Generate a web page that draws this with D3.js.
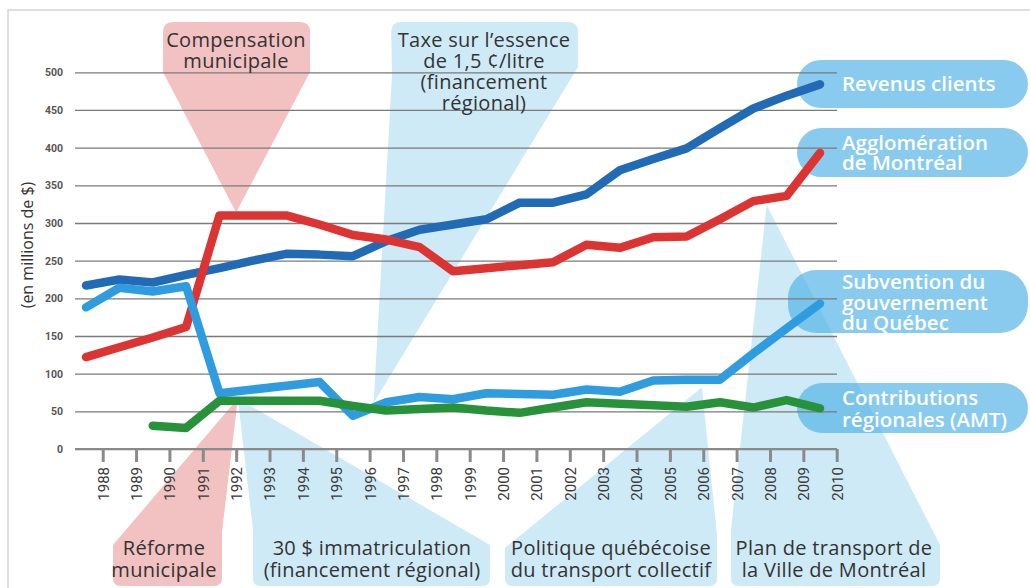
<!DOCTYPE html>
<html>
<head>
<meta charset="utf-8">
<script src="https://cdn.jsdelivr.net/npm/d3@7"></script>
<style>
  body { margin: 0; background: #fff; }
  svg { display: block; }
</style>
</head>
<body>
<script>
// Sources de financement du transport collectif (en millions de $)
// values, one per year
var years = [1988, 1989, 1990, 1991, 1992, 1993, 1994, 1995, 1996, 1997, 1998, 1999,
             2000, 2001, 2002, 2003, 2004, 2005, 2006, 2007, 2008, 2009, 2010];

var revenusClients = [217, 225, 221, 231, 240, 250, 259, 258, 256, 276, 291, 298,
                      305, 327, 327, 338, 370, 385, 399, 426, 452, 469, 484];
var agglomeration  = [122, 135, 148, 162, 310, 310, 310, 298, 284, 278, 268, 236,
                      240, 244, 248, 271, 267, 281, 282, 305, 329, 336, 393];
var subvention     = [188, 214, 209, 216, 74, 79, 84, 89, 44, 62, 69, 66,
                      74, 73, 72, 79, 76, 91, 92, 92, 127, 160, 193];
var contributions  = [null, null, 31, 28, 64, 64, 64, 64, 57, 51, 53, 55,
                      51, 48, 55, 62, 60, 58, 56, 62, 55, 65, 54];

var yTicks = [0, 50, 100, 150, 200, 250, 300, 350, 400, 450, 500];

var seriesNames = ['Revenus clients', 'Agglomération de Montréal',
                   'Subvention du gouvernement du Québec', 'Contributions régionales (AMT)'];
var legendLines = [['Revenus clients'], ['Agglomération', 'de Montréal'],
                   ['Subvention du', 'gouvernement', 'du Québec'],
                   ['Contributions', 'régionales (AMT)']];

var calloutTexts = [['Compensation', 'municipale'],
                    ['Taxe sur l\u2019essence', 'de 1,5 \u00a2/litre', '(financement', 'régional)'],
                    ['Réforme', 'municipale'],
                    ['30 $ immatriculation', '(financement régional)'],
                    ['Politique québécoise', 'du transport collectif'],
                    ['Plan de transport de', 'la Ville de Montréal']];
// where each callout points, in (year, millions) terms
var calloutYears  = [1992, 1996.12, 1992.05, 1992.05, 2005.96, 2007.9];
var calloutValues = [314, 61, 67, 67, 82, 324];

var seriesData = [revenusClients, agglomeration, subvention, contributions];
var colors = ['#216bb6', '#dc3432', '#309ce0', '#28923a'];

var W = 1030, H = 588;

var svg = d3.select('body').append('svg')
    .attr('width', W)
    .attr('height', H);

var x = d3.scaleLinear().domain([1988, 2010]).range([102.7, 836.7]);
var y = d3.scaleLinear().domain([0, 500]).range([449, 72.3]);
var half = (x(1989) - x(1988)) / 2;
var gridLeft = 75, gridRight = 837;

// frame
svg.append('path')
    .attr('d', 'M8,' + H + 'V10H' + W)
    .attr('fill', 'none')
    .attr('stroke', '#d4d4d4')
    .attr('stroke-width', 1.5);

// rounded polygon helper: points are [x, y, radius]
function towards(p, q, r) {
  var dx = q[0] - p[0], dy = q[1] - p[1], l = Math.sqrt(dx * dx + dy * dy);
  return [p[0] + dx / l * r, p[1] + dy / l * r];
}
function roundedPath(pts) {
  var n = pts.length, d = '';
  pts.forEach(function (p, i) {
    var r = p[2] || 0;
    var cmd = i ? 'L' : 'M';
    if (!r) { d += cmd + p[0] + ',' + p[1]; return; }
    var a = towards(p, pts[(i + n - 1) % n], r),
        b = towards(p, pts[(i + 1) % n], r);
    d += cmd + a[0] + ',' + a[1] + 'Q' + p[0] + ',' + p[1] + ' ' + b[0] + ',' + b[1];
  });
  return d + 'Z';
}

// callout shapes (layout only), 'A' = the point the callout aims at
var pink = '#f2c1c1', pale = '#cfeaf7';
var callouts = [
  {fill: pink, tx: 236, ty: [47, 68],
   pts: [[163, 22, 10], [310, 22, 10], [310, 72], 'A', [163, 72]]},
  {fill: pale, tx: 484, ty: [47, 68, 89, 110],
   pts: [[391, 22, 10], [578, 22, 10], [578, 67], 'A', [392, 75]]},
  {fill: pink, tx: 164, ty: [555, 577],
   pts: ['A', [222, 532], [222, 586, 8], [113, 586, 8], [113, 545]]},
  {fill: pale, tx: 372, ty: [555, 577],
   pts: ['A', [490, 545], [490, 586, 8], [253, 586, 8], [253, 530]]},
  {fill: pale, tx: 611, ty: [555, 577],
   pts: ['A', [717, 535], [717, 586, 8], [505, 586, 8], [505, 548]]},
  {fill: pale, tx: 834, ty: [555, 577],
   pts: ['A', [940, 545], [940, 586, 8], [731, 586, 8], [731, 530]]}
];

svg.append('g').selectAll('path')
  .data(callouts)
  .enter()
  .append('path')
  .attr('fill', function (d) { return d.fill; })
  .attr('d', function (d, i) {
    var apex = [x(calloutYears[i]), y(calloutValues[i]), 0];
    return roundedPath(d.pts.map(function (p) { return p === 'A' ? apex : p; }));
  });

// legend pills on the right
var pills = [
  {x: 797, y: 60, w: 231, h: 48, ty: [91]},
  {x: 797, y: 128, w: 231, h: 49, ty: [150, 170]},
  {x: 788, y: 270, w: 240, h: 63, ty: [289, 310, 330]},
  {x: 797, y: 383, w: 231, h: 50, ty: [405, 427]}
];

svg.append('g').selectAll('rect')
  .data(pills)
  .enter()
  .append('rect')
  .attr('x', function (d) { return d.x; })
  .attr('y', function (d) { return d.y; })
  .attr('width', function (d) { return d.w; })
  .attr('height', function (d) { return d.h; })
  .attr('rx', function (d) { return Math.min(d.h / 2, 28); })
  .attr('fill', '#49afe5')
  .attr('fill-opacity', 0.65);

// y axis + gridlines
var yAxis = d3.axisLeft(y)
    .tickValues(yTicks)
    .tickSize(-(gridRight - gridLeft))
    .tickPadding(12);

var gy = svg.append('g')
    .attr('transform', 'translate(' + gridLeft + ',0)')
    .call(yAxis);
gy.select('.domain').remove();
gy.selectAll('.tick line')
    .attr('stroke', '#7a7a7a')
    .attr('stroke-width', 1.3);
gy.selectAll('.tick text')
    .attr('font-family', 'Roboto, sans-serif')
    .attr('font-weight', 'bold')
    .attr('font-size', '10.5px')
    .attr('fill', '#555');

// x axis
var xAxis = d3.axisBottom(x)
    .tickValues(years)
    .tickFormat(d3.format('d'))
    .tickSize(13);

var gx = svg.append('g')
    .attr('transform', 'translate(0,' + y(0) + ')')
    .call(xAxis);
gx.select('.domain').remove();
gx.selectAll('.tick line')
    .attr('stroke', '#8a8a8a')
    .attr('stroke-width', 3);
gx.selectAll('.tick text')
    .attr('transform', 'rotate(-90)')
    .attr('text-anchor', 'end')
    .attr('x', -18)
    .attr('y', 0)
    .attr('dy', '0.36em')
    .attr('font-family', 'Roboto, sans-serif')
    .attr('font-size', '15px')
    .attr('fill', '#3a3a3a');

svg.append('line')
    .attr('x1', gridLeft).attr('x2', gridRight)
    .attr('y1', y(0)).attr('y2', y(0))
    .attr('stroke', '#8a8a8a')
    .attr('stroke-width', 2);

// y title
svg.append('text')
    .attr('transform', 'translate(33,' + 245 + ') rotate(-90)')
    .attr('text-anchor', 'middle')
    .attr('font-family', 'Open Sans, sans-serif')
    .attr('font-size', '16px')
    .attr('fill', '#333')
    .text('(en millions de $)');

// the four lines
var line = d3.line()
    .defined(function (d) { return d != null; })
    .x(function (d, i) { return x(years[i]) - half; })
    .y(function (d) { return y(d); });

svg.append('g').selectAll('path')
  .data(seriesData)
  .enter()
  .append('path')
  .attr('class', 'serie')
  .attr('d', line)
  .attr('fill', 'none')
  .attr('stroke', function (d, i) { return colors[i]; })
  .attr('stroke-width', 8.5)
  .attr('stroke-linejoin', 'round')
  .attr('stroke-linecap', 'round')
  .append('title')
  .text(function (d, i) { return seriesNames[i]; });

// callout text
callouts.forEach(function (c, i) {
  svg.append('text')
    .attr('text-anchor', 'middle')
    .attr('font-family', 'Open Sans, sans-serif')
    .attr('font-size', '20px')
    .attr('letter-spacing', '0.3px')
    .attr('fill', '#333')
    .selectAll('tspan')
    .data(calloutTexts[i])
    .enter()
    .append('tspan')
    .attr('x', c.tx)
    .attr('y', function (d, j) { return c.ty[j]; })
    .text(function (d) { return d; });
});

// legend text
pills.forEach(function (p, i) {
  svg.append('text')
    .attr('font-family', 'Open Sans, sans-serif')
    .attr('font-weight', 600)
    .attr('font-size', '20.5px')
    .attr('fill', '#fff')
    .selectAll('tspan')
    .data(legendLines[i])
    .enter()
    .append('tspan')
    .attr('x', 842)
    .attr('y', function (d, j) { return p.ty[j]; })
    .text(function (d) { return d; });
});
</script>
</body>
</html>
